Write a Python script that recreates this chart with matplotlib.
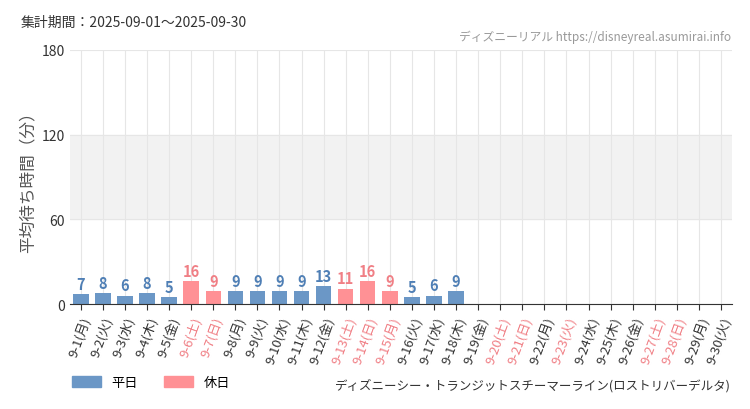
import matplotlib
matplotlib.use("Agg")
import matplotlib.pyplot as plt
from matplotlib.patches import Patch

plt.rcParams["font.family"] = ["Noto Sans CJK JP"]

dates = [f"9-{d}" for d in range(1, 31)]
weekdays = ["月","火","水","木","金","土","日"]
wd = [weekdays[i % 7] for i in range(30)]
values = [7,8,6,8,5,16,9,9,9,9,9,13,11,16,9,5,6,9] + [None]*12
holidays = [6,7,13,14,15,20,21,23,27,28]

blue = "#6b97c6"; red = "#ff9195"; redtxt = "#f07f85"

fig = plt.figure(figsize=(7.5, 4.1), dpi=100)
ax = fig.add_axes([0.093, 0.256, 0.883, 0.62])
ax.axhspan(60, 120, color="#f2f2f2", zorder=0)
for i, v in enumerate(values):
    hol = (i + 1) in holidays
    if v is not None:
        ax.bar(i, v, width=0.7, color=red if hol else blue, zorder=2)
        ax.text(i, v + 1.5, str(v), ha="center", va="bottom", fontsize=10.5,
                color=redtxt if hol else "#4f7fb5", fontweight="bold", zorder=3)
ax.set_xlim(-0.5, 29.5)
ax.set_ylim(0, 180)
ax.set_yticks([0, 60, 120, 180])
ax.set_xticks(range(30))
ax.set_xticklabels([f"{d}({w})" for d, w in zip(dates, wd)], rotation=70,
                   ha="right", rotation_mode="anchor", fontsize=9.5)
for i, t in enumerate(ax.get_xticklabels()):
    t.set_color(redtxt if (i + 1) in holidays else "#333333")
ax.grid(True, color="#e6e6e6", lw=0.8, zorder=1)
ax.set_axisbelow(True)
for s in ["top", "right", "left"]:
    ax.spines[s].set_visible(False)
ax.spines["bottom"].set_color("#333333")
ax.tick_params(axis="y", length=0, labelsize=10, colors="#333333")
ax.tick_params(axis="x", length=4, color="#333333")
ax.set_ylabel("平均待ち時間（分）", fontsize=12, color="#555555")

fig.text(0.027, 0.935, "集計期間：2025-09-01～2025-09-30", fontsize=10, color="#333333")
fig.text(0.975, 0.9, "ディズニーリアル https://disneyreal.asumirai.info", fontsize=8.5,
         color="#999999", ha="right")
fig.text(0.975, 0.05, "ディズニーシー・トランジットスチーマーライン(ロストリバーデルタ)",
         fontsize=9, color="#333333", ha="right")
fig.legend(handles=[Patch(color=blue, label="平日"), Patch(color=red, label="休日")],
           loc="lower left", bbox_to_anchor=(0.08, 0.02), ncol=2, frameon=False,
           fontsize=9.5, handlelength=2.2, handleheight=0.9)
fig.savefig("out.png", dpi=100)
